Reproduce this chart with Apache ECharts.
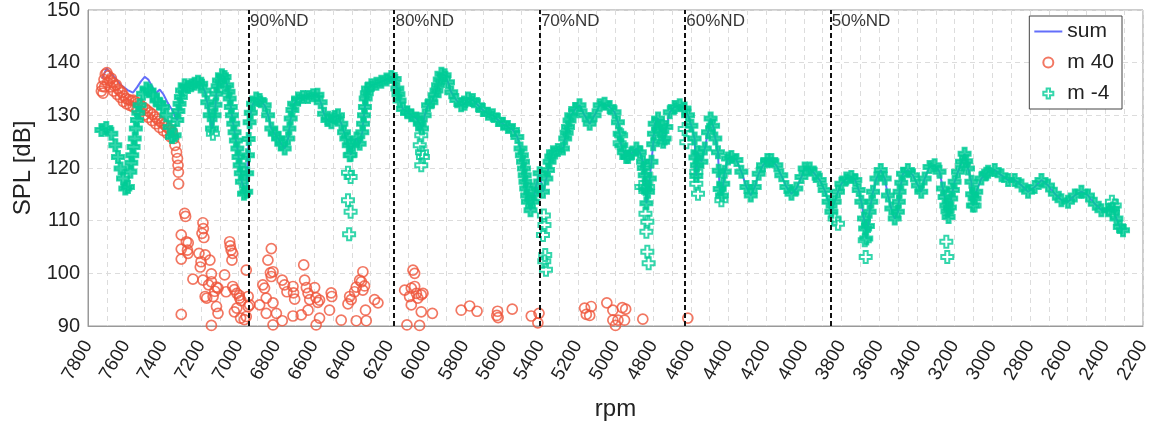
<!DOCTYPE html>
<html>
<head>
<meta charset="utf-8">
<script src="https://cdn.jsdelivr.net/npm/echarts@6/dist/echarts.min.js"></script>
<style>
html, body { margin: 0; background: #fff; }
#chart { width: 1156px; height: 427px; }
</style>
</head>
<body>
<div id="chart"></div>
<script>
// rpm, dB
const m4Main = [
  [7729,127.2],[7703,127.6],[7676,126.5],[7655,124.3],[7641,122.1],[7627,119.9],[7614,118.0],[7602,116.1],[7588,116.4],[7575,119.3],
  [7570,121.0],[7565,122.4],[7558,124.0],[7552,125.6],[7546,127.5],[7540,129.1],[7533,130.5],[7526,131.9],[7508,134.1],[7490,135.1],
  [7473,134.7],[7455,133.8],[7437,132.8],[7420,132.2],[7402,131.6],[7384,130.0],[7367,127.8],[7354,125.9],[7340,126.2],[7326,129.1],
  [7320,130.8],[7314,132.2],[7307,133.5],[7301,134.7],[7287,135.7],[7269,135.4],[7252,135.7],[7234,136.0],[7216,136.4],[7199,136.0],
  [7181,134.7],[7167,132.5],[7154,130.0],[7142,127.5],[7128,130.0],[7123,132.0],[7119,134.1],[7112,135.5],[7105,136.6],[7089,137.6],
  [7075,137.3],[7061,135.7],[7054,134.5],[7048,133.2],[7042,131.6],[7036,130.0],[7029,128.4],[7022,126.8],[7015,125.2],[7007,123.7],
  [7001,122.1],[6995,120.5],[6989,119.0],[6983,117.4],[6972,115.1],[6960,115.5],[6955,119.0],[6951,122.4],[6947,125.5],[6942,128.7],
  [6936,130.5],[6924,132.2],[6907,133.2],[6889,132.9],[6862,131.9],[6844,130.0],[6827,127.5],[6809,126.5],[6791,125.6],[6774,124.6],
  [6756,123.7],[6738,125.6],[6731,127.5],[6724,129.4],[6715,131.0],[6706,132.2],[6685,133.2],[6659,133.5],[6632,133.5],[6605,133.8],
  [6582,133.9],[6565,132.5],[6547,130.3],[6529,129.1],[6508,128.7],[6491,129.7],[6473,130.0],[6455,128.4],[6441,126.8],[6429,125.6],
  [6416,124.3],[6406,122.5],[6393,124.3],[6375,125.6],[6358,124.6],[6344,126.8],[6340,128.4],[6335,130.0],[6330,131.6],[6326,133.2],
  [6320,134.2],[6314,135.1],[6296,135.7],[6269,136.0],[6243,136.4],[6216,136.8],[6190,137.3],[6172,136.9],[6158,135.1],[6152,134.0],
  [6146,132.8],[6128,131.2],[6105,130.6],[6084,130.0],[6057,129.4],[6039,128.4],[6027,127.5],[6013,130.0],[5995,131.9],[5977,132.5],
  [5960,133.8],[5950,134.7],[5942,135.7],[5933,136.8],[5924,137.9],[5907,137.6],[5889,136.3],[5872,134.4],[5845,132.9],[5819,131.9],
  [5801,132.2],[5783,133.2],[5757,132.9],[5730,131.9],[5704,131.0],[5677,130.3],[5651,130.0],[5624,129.1],[5597,128.4],[5571,127.8],
  [5544,127.2],[5521,125.9],[5504,123.7],[5497,122.4],[5491,121.2],[5486,119.9],[5482,118.6],[5478,117.4],[5474,116.1],[5469,114.8],
  [5465,113.6],[5451,112.0],[5438,113.6],[5430,115.0],[5421,116.7],[5403,119.0],[5385,115.5],[5367,118.0],[5358,119.6],[5350,121.2],
  [5341,122.2],[5332,123.0],[5306,123.4],[5279,123.7],[5267,125.6],[5259,126.7],[5252,127.8],[5244,129.0],[5235,130.0],[5214,131.2],
  [5191,131.9],[5164,130.0],[5137,128.4],[5111,130.0],[5084,131.9],[5058,132.2],[5031,131.6],[5005,130.6],[4987,128.7],[4978,126.5],
  [4969,124.3],[4956,123.0],[4943,122.1],[4933,122.1],[4916,122.7],[4889,123.7],[4871,123.0],[4854,121.2],[4850,120.0],[4845,118.6],
  [4840,116.0],[4836,113.3],[4827,115.5],[4818,118.0],[4809,121.2],[4800,124.5],[4796,126.5],[4792,128.4],[4774,129.4],[4765,127.0],
  [4756,128.0],[4747,125.0],[4739,125.6],[4730,127.8],[4712,130.6],[4686,131.6],[4659,131.9],[4633,131.3],[4615,130.0],[4597,128.0],
  [4580,125.6],[4576,122.0],[4571,118.5],[4568,120.5],[4565,123.0],[4544,121.2],[4526,123.7],[4509,126.8],[4495,129.4],[4482,128.0],
  [4470,125.6],[4456,123.0],[4452,119.5],[4447,116.0],[4435,114.8],[4428,117.0],[4420,119.3],[4403,121.8],[4385,122.1],[4358,121.5],
  [4332,119.3],[4305,116.4],[4282,114.8],[4261,116.4],[4240,118.9],[4217,120.5],[4194,121.5],[4173,121.5],[4146,120.5],[4120,118.6],
  [4093,116.4],[4066,115.1],[4040,116.1],[4013,118.3],[3996,119.9],[3969,119.9],[3943,118.9],[3916,117.7],[3890,115.8],[3869,113.6],
  [3854,111.7],[3837,113.6],[3819,115.5],[3801,117.0],[3775,118.0],[3748,118.3],[3727,117.7],[3709,115.8],[3695,113.6],[3681,110.4],
  [3675,108.5],[3669,106.6],[3660,109.0],[3651,111.7],[3642,113.6],[3633,115.5],[3615,118.0],[3592,119.6],[3571,118.0],[3554,114.8],
  [3536,112.3],[3518,110.4],[3501,111.7],[3496,113.6],[3492,115.5],[3483,117.2],[3474,118.9],[3448,119.6],[3421,118.6],[3395,116.7],
  [3377,115.5],[3359,118.0],[3333,120.2],[3306,120.5],[3280,119.3],[3262,116.1],[3253,114.5],[3244,112.9],[3238,111.8],[3232,110.7],
  [3225,112.5],[3218,114.2],[3209,115.8],[3200,117.4],[3182,119.3],[3161,121.2],[3147,122.7],[3138,121.3],[3129,119.9],[3111,117.4],
  [3107,115.0],[3103,112.9],[3094,114.2],[3085,115.5],[3058,118.0],[3032,118.9],[3022,119.3],[2987,119.6],[2951,118.6],[2916,117.7],
  [2881,117.7],[2845,116.7],[2810,115.5],[2775,116.4],[2739,117.7],[2704,116.7],[2668,115.1],[2633,113.9],[2598,113.6],[2562,114.8],
  [2527,115.5],[2492,114.8],[2456,113.2],[2421,112.0],[2386,112.0],[2359,112.3],[2341,110.4],[2323,108.8],[2306,108.2]
];

// stray m -4 points below the main trace
const m4Stray = [
  [7137,126.5],[6411,122.4],[6420,119.1],[6406,118.3],[6420,113.9],[6406,111.7],[6414,107.4],
  [6031,126.2],[6039,124.3],[6027,123.0],[6022,122.1],[6031,120.5],
  [5380,111.0],[5377,109.2],[5385,107.3],[5373,103.5],[5378,102.3],[5369,100.7],
  [4970,126.2],[4978,124.7],[4863,116.4],[4845,116.4],[4827,116.4],
  [4841,111.3],[4831,109.8],[4836,107.9],[4831,104.1],[4824,101.9],
  [4633,127.4],[4624,124.9],[4571,119.3],[4571,117.0],[4562,115.1],[4438,113.9],
  [3837,110.4],[3819,109.4],[3677,106.3],[3672,103.1],[3244,106.0],[3239,103.1],
  [3094,112.9],[2365,113.6],[2350,112.9],[2359,111.5]
];

const m40Data = [
  [7729,134.6],[7726,135.5],[7720,134.2],[7715,136.8],[7708,137.8],[7700,138.1],[7692,137.5],[7685,136.6],[7676,137.0],[7668,136.2],
  [7660,135.6],[7650,135.8],[7640,135.0],[7630,134.7],[7620,134.3],[7610,133.7],[7598,133.2],[7585,133.0],[7572,132.8],[7560,132.9],
  [7548,132.6],[7535,132.3],[7522,132.0],[7510,131.6],[7497,131.3],[7484,130.9],[7470,130.5],[7457,130.2],[7444,129.7],[7432,129.3],
  [7420,128.9],[7408,128.6],[7396,128.3],[7384,127.9],[7372,127.5],[7362,127.1],[7352,126.8],[7345,125.6],[7338,124.3],[7330,123.0],
  [7325,121.8],[7322,120.5],[7320,119.2],[7319,117.0],
  [7712,135.4],[7696,136.2],[7680,135.4],[7664,134.6],[7646,134.0],[7628,133.4],[7612,132.6],[7595,132.2],[7578,131.9],[7560,131.6],
  [7540,131.2],[7520,130.8],[7500,130.1],[7480,129.6],[7460,129.0],[7440,128.4],[7420,127.7],[7400,127.1],[7380,126.6],[7362,125.9],
  [7305,107.3],[7305,104.6],[7305,102.7],[7305,92.2],[7287,111.4],[7282,110.8],[7278,106.0],[7272,104.4],[7268,105.8],[7269,103.8],
  [7243,98.9],[7211,103.8],[7204,101.2],[7200,102.2],[7190,109.6],[7188,108.5],[7195,107.6],[7185,106.8],[7190,98.7],[7178,103.5],
  [7178,95.6],[7170,95.3],[7153,102.5],[7160,97.8],[7145,98.4],[7127,96.6],[7118,97.4],[7110,97.2],[7145,99.9],[7136,95.6],
  [7118,93.7],[7110,92.4],[7145,90.1],[7075,99.7],[7067,96.5],[7048,106.0],[7045,105.2],[7040,104.4],[7032,103.8],[7036,102.5],
  [7032,97.5],[7023,96.9],[7010,96.2],[6995,95.3],[7023,92.7],[7010,93.4],[6997,95.8],[6988,94.8],[6990,91.5],[6970,91.2],
  [6960,91.8],[6960,100.6],[6950,95.6],[6950,93.7],[6942,94.0],[6889,94.0],[6872,97.8],[6863,97.2],[6854,95.3],[6845,102.5],
  [6827,104.7],[6832,100.1],[6827,99.4],[6818,100.3],[6854,92.4],[6818,94.4],[6800,92.4],[6818,90.2],[6769,98.7],[6757,97.8],
  [6744,96.5],[6712,97.5],[6709,96.3],[6703,95.1],[6769,91.0],[6712,91.9],[6668,92.1],[6655,101.6],[6650,98.7],[6641,97.3],
  [6632,96.2],[6623,95.0],[6597,97.3],[6590,95.4],[6580,94.5],[6571,94.9],[6632,93.0],[6571,91.5],[6589,90.2],[6509,96.3],
  [6506,95.6],[6518,93.0],[6456,91.1],[6420,94.2],[6411,95.6],[6403,95.0],[6385,96.5],[6376,97.4],[6358,98.7],[6349,98.4],
  [6341,100.3],[6332,97.6],[6341,96.8],[6376,91.0],[6323,91.0],[6327,93.0],[6279,95.0],[6261,94.4],
  [6107,90.2],[6075,100.6],[6066,100.0],[6119,96.8],[6093,95.6],[6084,97.2],[6066,97.5],[6057,96.2],[6049,95.3],[6031,95.9],
  [6022,96.2],[6084,94.0],[6031,92.7],[5972,92.4],[6040,90.1],[5819,93.0],[5774,93.8],[5735,92.8],[5630,92.0],[5623,91.6],
  [5626,92.8],[5548,93.2],[5447,91.9],[5406,92.4],[5412,90.6],[5164,93.4],[5129,93.7],[5155,92.2],[5137,92.0],[5046,94.4],
  [5014,93.0],[4964,93.5],[4946,93.2],[5014,91.1],[4987,91.1],[4952,91.1],[5000,90.1],[4855,91.3],[4616,91.5]
];

// where the sum curve stands clear of m -4, before they merge
const sumHead = [
  [7725,137.0],[7701,138.9],[7680,138.0],[7658,137.2],[7623,135.7],[7590,134.8],[7561,134.3],[7540,135.3],[7520,136.4],[7499,137.3],
  [7480,136.8],[7460,135.5],[7440,134.2],[7419,134.9],[7400,134.0],[7380,132.6],[7360,131.4],[7349,130.8],[7335,129.5]
];

const ndRpm = [6948, 6176, 5404, 4632, 3860];
const ndLabels = ['90%ND', '80%ND', '70%ND', '60%ND', '50%ND'];

const green = '#00cc96';
const clear = 'rgba(0,0,0,0)';
const sumData = sumHead.concat(m4Main.filter(p => p[0] < 7330));
// the dense trace reads as a solid band, the strays stay hollow
const m4Data = m4Main.map(p => ({ value: p, itemStyle: { color: green } })).concat(m4Stray);

const crossPath = 'path://M1,0H2V1H3V2H2V3H1V2H0V1H1Z';
const font = 'Liberation Sans, Arial, sans-serif';
const gridLine = { show: true, lineStyle: { color: '#dcdcdc', type: [5, 4], width: 1 } };

const chart = echarts.init(document.getElementById('chart'));
chart.setOption({
  animation: false,
  textStyle: { fontFamily: font, color: '#222' },
  grid: { left: 88, right: 13, top: 10, bottom: 101, show: true, borderColor: '#999', borderWidth: 1 },
  legend: {
    data: [
      { name: 'sum', itemStyle: { color: clear, borderColor: clear, borderWidth: 0 } },
      'm 40',
      'm -4'
    ],
    orient: 'vertical',
    right: 34,
    top: 16,
    backgroundColor: '#fff',
    borderColor: '#444',
    borderWidth: 1,
    padding: [5, 8, 5, 4],
    itemGap: 10,
    itemWidth: 28,
    itemHeight: 10,
    textStyle: { fontSize: 21, color: '#222', fontFamily: font }
  },
  xAxis: {
    type: 'value',
    min: 2200,
    max: 7800,
    interval: 200,
    inverse: true,
    name: 'rpm',
    nameLocation: 'middle',
    nameGap: 71,
    nameTextStyle: { fontSize: 24, color: '#222' },
    axisLine: { show: true, onZero: false, lineStyle: { color: '#999' } },
    axisTick: { show: false },
    axisLabel: { rotate: 60, fontSize: 19, color: '#222', margin: 16, formatter: v => String(v) },
    splitLine: gridLine,
    minorTick: { show: false, splitNumber: 2 },
    minorSplitLine: gridLine
  },
  yAxis: {
    type: 'value',
    min: 90,
    max: 150,
    interval: 10,
    name: 'SPL [dB]',
    nameLocation: 'middle',
    nameGap: 50,
    nameTextStyle: { fontSize: 24, color: '#222' },
    axisLine: { show: true, lineStyle: { color: '#999' } },
    axisTick: { show: false },
    axisLabel: { fontSize: 20, color: '#222', margin: 8 },
    splitLine: gridLine
  },
  series: [
    {
      name: 'sum',
      type: 'line',
      data: sumData,
      symbol: 'none',
      lineStyle: { color: '#636efa', width: 2 },
      itemStyle: { color: '#636efa' },
      z: 2
    },
    {
      name: 'm 40',
      type: 'scatter',
      data: m40Data,
      symbol: 'circle',
      symbolSize: 10,
      itemStyle: { color: clear, borderColor: '#ef553b', borderWidth: 1.7 },
      z: 3
    },
    {
      name: 'm -4',
      type: 'scatter',
      data: m4Data,
      symbol: crossPath,
      symbolSize: 12,
      itemStyle: { color: clear, borderColor: green, borderWidth: 2 },
      z: 4
    },
    {
      name: 'nd',
      type: 'scatter',
      data: ndRpm.map((r, i) => ({ value: [r, 150], label: { formatter: ndLabels[i] } })),
      symbolSize: 1,
      itemStyle: { color: clear },
      label: { show: true, position: 'right', distance: 1, offset: [0, 11], fontSize: 17, color: '#000', fontFamily: font },
      markLine: {
        silent: true,
        symbol: 'none',
        label: { show: false },
        lineStyle: { color: '#111', type: [5, 3], width: 2 },
        data: ndRpm.map(r => ({ xAxis: r }))
      },
      z: 5
    }
  ]
});
</script>
</body>
</html>
